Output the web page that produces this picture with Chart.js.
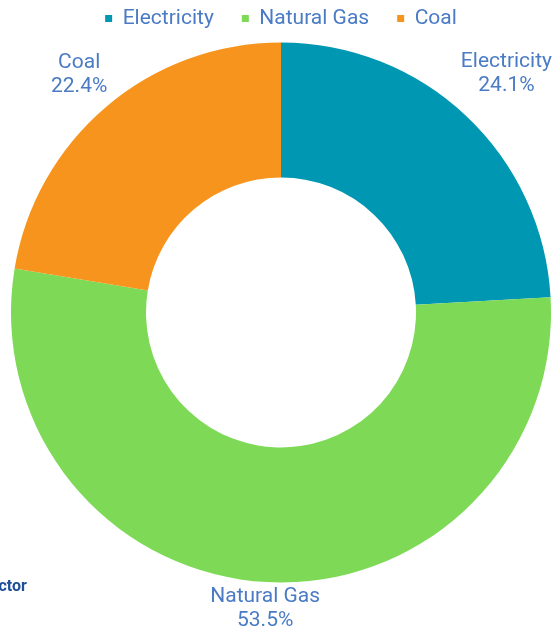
<!DOCTYPE html>
<html>
<head>
<meta charset="utf-8">
<script src="https://cdn.jsdelivr.net/npm/chart.js@4.4.0/dist/chart.umd.min.js"></script>
<style>
  body { margin: 0; background: #fff; overflow: hidden; }
  #wrap { position: relative; width: 554px; height: 633px; }
  #cut { position: absolute; left: -20px; top: 576px; font: bold 16px Roboto, sans-serif; color: #1d4f9a; white-space: nowrap; }
</style>
</head>
<body>
<div id="wrap">
  <canvas id="pie" width="554" height="633"></canvas>
  <div id="cut">Sector</div>
</div>
<script>
// energy use by source, share in percent
const labels = ['Electricity', 'Natural Gas', 'Coal'];
const shares = [24.1, 53.5, 22.4];
const colors = ['#0097B2', '#7ED957', '#F7941D'];
const textBlue = '#4A7BC4';
const lineH = 24;

// labels outside each slice, pushed out along the middle of the arc
const sliceLabels = {
  id: 'sliceLabels',
  afterDatasetsDraw(chart) {
    const ctx = chart.ctx;
    const meta = chart.getDatasetMeta(0);
    ctx.save();
    ctx.font = '21px Roboto';
    ctx.fillStyle = textBlue;
    ctx.textAlign = 'center';
    ctx.textBaseline = 'middle';
    meta.data.forEach((arc, i) => {
      const lines = [labels[i], shares[i].toFixed(1) + '%'];
      const mid = (arc.startAngle + arc.endAngle) / 2;
      const vx = Math.cos(mid), vy = Math.sin(mid);
      const hw = Math.max(...lines.map(l => ctx.measureText(l).width)) / 2;
      const hh = (lines.length - 1) * lineH / 2 + 8;
      const d = arc.outerRadius + 3 + Math.abs(vx) * hw * 1.3 + Math.abs(vy) * hh;
      const cx = arc.x + vx * d, cy = arc.y + vy * d;
      lines.forEach((l, j) => ctx.fillText(l, cx, cy + (j - (lines.length - 1) / 2) * lineH));
    });
    ctx.restore();
  }
};

new Chart(document.getElementById('pie'), {
  type: 'doughnut',
  data: {
    labels: labels,
    datasets: [{
      data: shares,
      backgroundColor: colors,
      borderWidth: 0,
      radius: 270,
      cutout: '50%'
    }]
  },
  options: {
    responsive: false,
    animation: false,
    layout: { padding: { top: -20, bottom: 47, left: 12, right: 4 } },
    plugins: {
      legend: {
        position: 'top',
        labels: {
          color: textBlue,
          font: { family: 'Roboto', size: 21 },
          boxWidth: 7,
          boxHeight: 7,
          padding: 28
        }
      },
      tooltip: { enabled: false }
    }
  },
  plugins: [sliceLabels]
});
</script>
</body>
</html>
